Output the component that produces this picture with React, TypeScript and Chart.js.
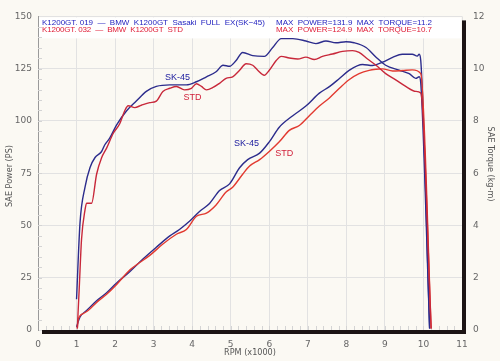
import React, { useEffect, useRef } from "react";
import { Chart, registerables } from "chart.js";

Chart.register(...registerables);

// ---- Data (rpm x1000) ----
const SK45_TORQUE_RPM = [1.00,1.09,1.22,1.35,1.48,1.65,1.73,1.86,2.04,2.30,2.55,2.81,3.07,3.42,3.85,4.11,4.37,4.62,4.80,4.97,5.14,5.31,5.57,5.87,6.09,6.31,6.61,6.95,7.21,7.47,7.73,7.99,8.20,8.51,8.77,9.02,9.37,9.63,9.80,9.89,9.93,10.16];
const SK45_TORQUE = [1.18,4.10,5.47,6.22,6.60,6.83,7.08,7.34,7.85,8.39,8.76,9.13,9.32,9.38,9.38,9.50,9.69,9.88,10.13,10.09,10.31,10.62,10.50,10.47,10.81,11.15,11.15,11.06,10.96,11.06,10.99,11.03,10.99,10.81,10.44,10.13,9.94,9.81,9.63,9.69,9.44,0.05];

const STD_TORQUE_RPM = [1.02,1.07,1.13,1.22,1.26,1.39,1.52,1.65,1.78,1.95,2.12,2.25,2.34,2.51,2.68,2.90,3.07,3.24,3.42,3.59,3.80,3.98,4.11,4.24,4.37,4.54,4.71,4.88,5.05,5.23,5.40,5.57,5.70,5.87,6.00,6.18,6.31,6.52,6.74,6.95,7.17,7.38,7.64,7.90,8.16,8.33,8.55,8.77,9.02,9.28,9.54,9.80,9.93,10.20];
const STD_TORQUE = [0.06,1.61,3.48,4.60,4.85,4.85,5.96,6.59,6.96,7.52,7.89,8.39,8.58,8.51,8.60,8.70,8.76,9.13,9.25,9.32,9.19,9.25,9.42,9.32,9.19,9.28,9.44,9.63,9.69,9.94,10.19,10.13,9.94,9.75,9.94,10.31,10.47,10.41,10.37,10.44,10.35,10.47,10.56,10.66,10.69,10.62,10.37,10.13,9.81,9.57,9.32,9.13,9.07,0.05];

const SK45_POWER_RPM = [1.00,1.09,1.26,1.52,1.78,2.04,2.38,2.73,3.07,3.42,3.67,3.93,4.19,4.45,4.71,4.97,5.23,5.44,5.75,6.00,6.26,6.61,6.95,7.30,7.56,7.82,8.07,8.42,8.68,8.94,9.20,9.45,9.71,9.84,9.89,9.93,10.16];
const SK45_POWER = [1.5,6.2,9.3,14.0,17.8,22.5,27.9,34.1,39.6,45.0,48.1,52.0,56.7,60.5,66.7,69.9,77.6,81.5,84.6,90.0,97.0,102.5,107.1,113.3,116.4,120.3,124.2,127.0,126.5,128.1,130.4,131.9,131.9,131.0,131.9,128.9,0.8];

const STD_POWER_RPM = [1.02,1.04,1.17,1.30,1.52,1.78,2.04,2.38,2.55,2.90,3.24,3.59,3.85,4.11,4.37,4.62,4.88,5.05,5.31,5.49,5.75,6.00,6.26,6.52,6.78,7.04,7.30,7.56,7.82,8.07,8.33,8.59,8.77,8.94,9.20,9.45,9.71,9.93,10.20];
const STD_POWER = [0.8,4.7,7.8,9.3,13.2,17.1,21.8,28.7,31.1,35.7,41.1,45.8,48.1,54.4,55.9,59.8,66.0,68.3,74.5,78.4,81.5,85.4,90.0,95.5,97.8,102.5,107.1,111.0,115.6,119.7,122.6,124.2,124.7,124.9,123.9,124.1,124.4,122.6,0.8];

const HEADER_SK45 = ["K1200GT. 019  \u2014  BMW  K1200GT  Sasaki  FULL  EX(SK\u221245)", "MAX  POWER=131.9  MAX  TORQUE=11.2"];
const HEADER_STD = ["K1200GT. 032  \u2014  BMW  K1200GT  STD", "MAX  POWER=124.9  MAX  TORQUE=10.7"];
const SERIES_LABELS = ["SK-45", "STD"];
const X_TITLE = "RPM (x1000)";
const Y_TITLE = "SAE Power (PS)";
const Y1_TITLE = "SAE Torque (kg-m)";

const BLUE = "#2c2c8c";
const RED_T = "#c8283a";
const RED_P = "#e23a30";
const NARROW = '"DejaVu Sans", sans-serif';
const SANS = '"Liberation Sans", Arial, sans-serif';

const pts = (xs: number[], ys: number[]) => xs.map((x, i) => ({ x, y: ys[i] }));

function fitText(ctx: any, text: string, x: number, y: number, width: number) {
  ctx.letterSpacing = "0px";
  const w = ctx.measureText(text).width;
  const ls = (width - w) / text.length;
  if ("letterSpacing" in ctx) {
    ctx.letterSpacing = ls.toFixed(2) + "px";
    ctx.fillText(text, x, y);
    ctx.letterSpacing = "0px";
  } else {
    ctx.save();
    ctx.translate(x, y);
    ctx.scale(width / w, 1);
    ctx.fillText(text, 0, 0);
    ctx.restore();
  }
}

const decor = {
  id: "decor",
  beforeDraw(chart: any) {
    const ctx = chart.ctx;
    ctx.save();
    ctx.fillStyle = "#fbf9f3";
    ctx.fillRect(0, 0, chart.width, chart.height);
    ctx.restore();
  },
  beforeDatasetsDraw(chart: any) {
    const { ctx, chartArea: a, scales } = chart;
    ctx.save();
    ctx.fillStyle = "#ffffff";
    ctx.fillRect(a.left + 1, a.top + 1, a.right - a.left - 2, 21);
    ctx.strokeStyle = "#d4d4d4";
    ctx.lineWidth = 1;
    for (let r = 0.2; r < 11; r += 0.2) {
      const px = Math.round(scales.x.getPixelForValue(r)) + 0.5;
      ctx.beginPath();
      ctx.moveTo(px, a.bottom);
      ctx.lineTo(px, a.bottom - 4);
      ctx.stroke();
    }
    for (let v = 5; v < 150; v += 5) {
      const py = Math.round(scales.y.getPixelForValue(v)) + 0.5;
      ctx.beginPath();
      ctx.moveTo(a.left, py);
      ctx.lineTo(a.left + 4, py);
      ctx.stroke();
    }
    ctx.restore();
  },
  afterDatasetsDraw(chart: any) {
    const { ctx, chartArea: a, scales } = chart;
    ctx.save();
    ctx.fillStyle = "#1c1414";
    ctx.fillRect(a.right, a.top + 4, 4, a.bottom - a.top);
    ctx.fillRect(a.left + 4, a.bottom, a.right - a.left, 4);
    ctx.textBaseline = "middle";
    ctx.textAlign = "left";
    ctx.font = "8px " + SANS;
    ctx.fillStyle = "#2424c0";
    fitText(ctx, HEADER_SK45[0], a.left + 4, a.top + 6.5, 223);
    fitText(ctx, HEADER_SK45[1], a.left + 238, a.top + 6.5, 156);
    ctx.fillStyle = "#e0203a";
    fitText(ctx, HEADER_STD[0], a.left + 4, a.top + 13.7, 141);
    fitText(ctx, HEADER_STD[1], a.left + 238, a.top + 13.7, 156);
    ctx.textAlign = "center";
    ctx.font = "9px " + SANS;
    const xs = scales.x, y = scales.y, y1 = scales.y1;
    ctx.fillStyle = "#2020a0";
    ctx.fillText(SERIES_LABELS[0], xs.getPixelForValue(3.62), y1.getPixelForValue(9.67));
    ctx.fillText(SERIES_LABELS[0], xs.getPixelForValue(5.41), y.getPixelForValue(89.2));
    ctx.fillStyle = "#d0203a";
    ctx.fillText(SERIES_LABELS[1], xs.getPixelForValue(4.01), y1.getPixelForValue(8.91));
    ctx.fillText(SERIES_LABELS[1], xs.getPixelForValue(6.39), y.getPixelForValue(84.5));
    ctx.fillStyle = "#555";
    ctx.font = "condensed 9px " + NARROW;
    ctx.fillText(X_TITLE, 250, 353);
    ctx.save();
    ctx.translate(10, 176);
    ctx.rotate(-Math.PI / 2);
    ctx.fillText(Y_TITLE, 0, 0);
    ctx.restore();
    ctx.save();
    ctx.translate(490, 164);
    ctx.rotate(Math.PI / 2);
    ctx.fillText(Y1_TITLE, 0, 0);
    ctx.restore();
    ctx.restore();
  },
};

export default function App() {
  const ref = useRef<HTMLCanvasElement | null>(null);
  useEffect(() => {
    document.body.style.margin = "0";
    const canvas = ref.current!;
    const line = (data: any, color: string, axis: string) => ({
      data,
      borderColor: color,
      backgroundColor: color,
      borderWidth: 1.4,
      pointRadius: 0,
      cubicInterpolationMode: "monotone" as const,
      yAxisID: axis,
      fill: false,
    });
    const tickFont = { family: NARROW, size: 9, style: "condensed" };
    const chart = new Chart(canvas, {
      type: "line",
      data: {
        datasets: [
          line(pts(STD_TORQUE_RPM, STD_TORQUE), RED_T, "y1"),
          line(pts(STD_POWER_RPM, STD_POWER), RED_P, "y"),
          line(pts(SK45_TORQUE_RPM, SK45_TORQUE), BLUE, "y1"),
          line(pts(SK45_POWER_RPM, SK45_POWER), BLUE, "y"),
        ],
      },
      options: {
        animation: false,
        responsive: false,
        devicePixelRatio: 1,
        layout: { padding: { top: 8, left: 0, right: 0, bottom: 0 } },
        plugins: { legend: { display: false }, tooltip: { enabled: false } },
        scales: {
          x: {
            type: "linear",
            min: 0,
            max: 11,
            ticks: { stepSize: 1, padding: 9, color: "#666", font: tickFont, maxRotation: 0 },
            grid: { color: "#e2e2e2", drawTicks: false },
            border: { display: false },
            afterFit: (s: any) => { s.height = 31; },
          },
          y: {
            position: "left",
            min: 0,
            max: 150,
            ticks: { stepSize: 25, padding: 6, color: "#666", font: tickFont },
            grid: { color: "#e2e2e2", drawTicks: false },
            border: { color: "#9a9a9a" },
            afterFit: (s: any) => { s.width = 38; },
          },
          y1: {
            position: "right",
            min: 0,
            max: 12,
            ticks: { stepSize: 2, padding: 11, color: "#666", font: tickFont },
            grid: { drawOnChartArea: false, drawTicks: false },
            border: { display: false },
            afterFit: (s: any) => { s.width = 38; },
          },
        },
      } as any,
      plugins: [decor],
    });
    return () => chart.destroy();
  }, []);
  return (
    <div style={{ width: 500, height: 361 }}>
      <canvas ref={ref} width={500} height={361} style={{ width: 500, height: 361, display: "block" }} />
    </div>
  );
}
